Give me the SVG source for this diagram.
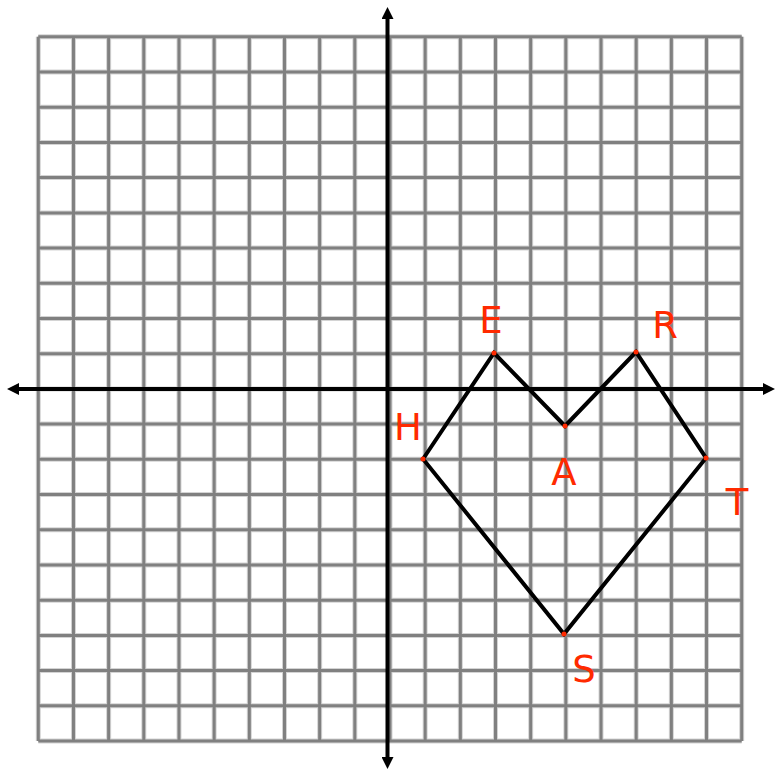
<svg xmlns="http://www.w3.org/2000/svg" width="778" height="770" viewBox="0 0 778 770">
<defs>
<style>
.halo{fill:none;stroke:#d4d4d4;stroke-width:5}
.grid{fill:none;stroke:#808080;stroke-width:3}
.axis{fill:none;stroke:#000;stroke-width:4}
.edge{fill:none;stroke:#000;stroke-width:4;stroke-linejoin:miter}
.dot{fill:#ff2a00}
.lbl{font-family:"DejaVu Sans","Liberation Sans",sans-serif;font-size:37px;fill:#ff2a00;text-anchor:middle}
</style>
<marker id="arr" viewBox="0 0 12 12" refX="2" refY="6" markerWidth="12" markerHeight="12" markerUnits="userSpaceOnUse" orient="auto-start-reverse">
<path d="M0 0L12 6L0 12Z" fill="#000"/>
</marker>
</defs>
<rect width="778" height="770" fill="#fff"/>
<g id="grid">
<path id="gridpath" class="halo" d="M38.3 36.8V741 M73.47 36.8V741 M108.64 36.8V741 M143.81 36.8V741 M178.98 36.8V741 M214.15 36.8V741 M249.32 36.8V741 M284.49 36.8V741 M319.66 36.8V741 M354.83 36.8V741 M390 36.8V741 M425.17 36.8V741 M460.34 36.8V741 M495.51 36.8V741 M530.68 36.8V741 M565.85 36.8V741 M601.02 36.8V741 M636.19 36.8V741 M671.36 36.8V741 M706.53 36.8V741 M741.7 36.8V741 M38.3 36.8H741.7 M38.3 72H741.7 M38.3 107.2H741.7 M38.3 142.4H741.7 M38.3 177.6H741.7 M38.3 212.9H741.7 M38.3 248.1H741.7 M38.3 283.3H741.7 M38.3 318.5H741.7 M38.3 353.7H741.7 M38.3 388.9H741.7 M38.3 424.1H741.7 M38.3 459.3H741.7 M38.3 494.5H741.7 M38.3 529.7H741.7 M38.3 565H741.7 M38.3 600.2H741.7 M38.3 635.4H741.7 M38.3 670.6H741.7 M38.3 705.8H741.7 M38.3 741H741.7"/>
<path class="grid" d="M38.3 36.8V741 M73.47 36.8V741 M108.64 36.8V741 M143.81 36.8V741 M178.98 36.8V741 M214.15 36.8V741 M249.32 36.8V741 M284.49 36.8V741 M319.66 36.8V741 M354.83 36.8V741 M390 36.8V741 M425.17 36.8V741 M460.34 36.8V741 M495.51 36.8V741 M530.68 36.8V741 M565.85 36.8V741 M601.02 36.8V741 M636.19 36.8V741 M671.36 36.8V741 M706.53 36.8V741 M741.7 36.8V741 M38.3 36.8H741.7 M38.3 72H741.7 M38.3 107.2H741.7 M38.3 142.4H741.7 M38.3 177.6H741.7 M38.3 212.9H741.7 M38.3 248.1H741.7 M38.3 283.3H741.7 M38.3 318.5H741.7 M38.3 353.7H741.7 M38.3 388.9H741.7 M38.3 424.1H741.7 M38.3 459.3H741.7 M38.3 494.5H741.7 M38.3 529.7H741.7 M38.3 565H741.7 M38.3 600.2H741.7 M38.3 635.4H741.7 M38.3 670.6H741.7 M38.3 705.8H741.7 M38.3 741H741.7"/>
</g>
<g id="connectors">
<line class="axis" x1="387.5" y1="17" x2="387.5" y2="759" marker-start="url(#arr)" marker-end="url(#arr)"/>
<line class="axis" x1="17" y1="389" x2="765" y2="389" marker-start="url(#arr)" marker-end="url(#arr)"/>
<polygon class="edge" points="423,459 494,353 565,426 636,352 706,458 564,634"/>
</g>
<g id="node-E"><circle class="dot" cx="494" cy="353" r="2.5"/><text class="lbl" x="491" y="333">E</text></g>
<g id="node-R"><circle class="dot" cx="636" cy="352" r="2.5"/><text class="lbl" x="665" y="338">R</text></g>
<g id="node-A"><circle class="dot" cx="565" cy="426" r="2.5"/><text class="lbl" x="564" y="485">A</text></g>
<g id="node-H"><circle class="dot" cx="423" cy="459" r="2.5"/><text class="lbl" x="408" y="440">H</text></g>
<g id="node-T"><circle class="dot" cx="706" cy="458" r="2.5"/><text class="lbl" x="737" y="515">T</text></g>
<g id="node-S"><circle class="dot" cx="564" cy="634" r="2.5"/><text class="lbl" x="584" y="682">S</text></g>
</svg>
